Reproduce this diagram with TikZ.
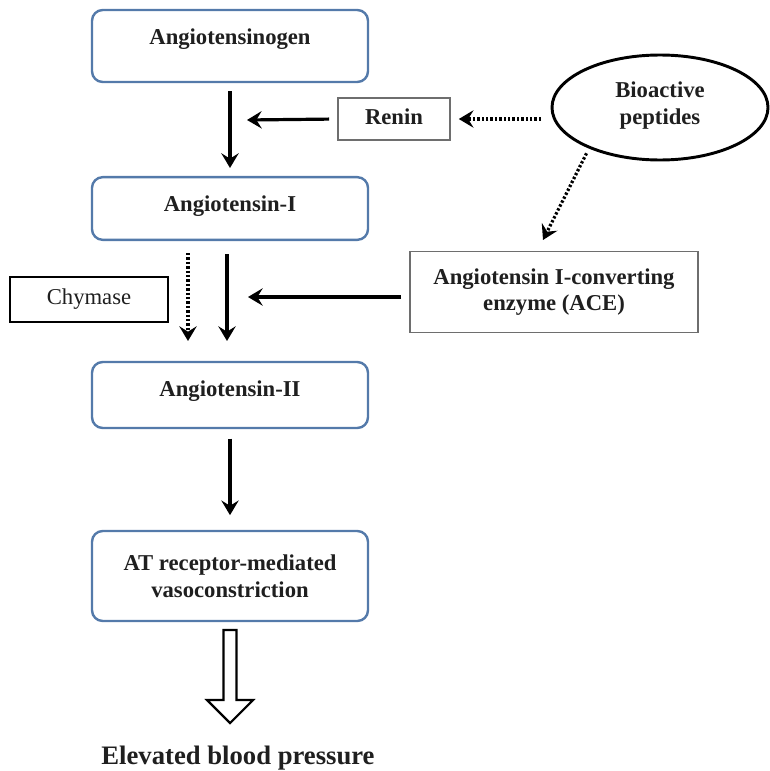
\documentclass[tikz,border=0pt]{standalone}
\usepackage{fontspec}
\setmainfont{Liberation Serif}
\usetikzlibrary{arrows.meta,shapes.geometric,calc}
\definecolor{boxblue}{RGB}{84,122,170}
\definecolor{boxgray}{RGB}{110,110,110}
\begin{document}
\begin{tikzpicture}[x=0.75pt,y=-0.75pt,
  txt/.style={font=\fontsize{17}{20}\selectfont\bfseries, text=black!88},
  bluebox/.style={txt, draw=boxblue, line width=1.8pt, rounded corners=8pt, fill=white,
     minimum width=207pt, align=center},
  graybox/.style={txt, draw=boxgray, line width=1.2pt, fill=white, align=center},
  solidarrow/.style={line width=2.4pt, -{Stealth[length=11pt,width=13pt,inset=4pt]}},
  dotarrow/.style={line width=2.4pt, dash pattern=on 1.8pt off 1.5pt, -{Stealth[length=11pt,width=13pt,inset=4pt]}},
]
\useasboundingbox (0,0) rectangle (770,771);

% main chain
\node[bluebox, minimum height=54pt, text height=12pt, text depth=15pt] (agen) at (230,46) {Angiotensinogen};
\node[bluebox, minimum height=47pt, text height=12pt, text depth=7.5pt] (a1) at (230,208.5) {Angiotensin-I};
\node[bluebox, minimum height=49.5pt, text height=12pt, text depth=10pt] (a2) at (230,395) {Angiotensin-II};
\node[bluebox, minimum height=67.5pt] (at) at (230,576) {AT receptor-mediated\\vasoconstriction};

% enzymes
\node[graybox, minimum width=84pt, minimum height=31.5pt, text height=12pt, text depth=4pt] (renin) at (394,119) {Renin};
\node[graybox, minimum width=216pt, minimum height=60.75pt] (ace) at (554,292) {Angiotensin I-converting\\enzyme (ACE)};
\node[txt, font=\fontsize{17}{20}\selectfont, draw=black, line width=2.2pt, fill=white,
      minimum width=118.5pt, minimum height=33.75pt, text height=12pt, text depth=4pt] (chy) at (89,299.5) {Chymase};

% bioactive peptides
\node[txt, ellipse, draw=black, line width=2.2pt, minimum width=162pt, minimum height=78.75pt,
      align=center, text depth=7pt] (bio) at (660,107.5) {Bioactive\\peptides};

% free ends
\coordinate (reninTip) at (247,120);
\coordinate (aceTip) at (248,297);
\coordinate (aceTop) at (543,240);
\coordinate (chyTip) at (188,341);
\coordinate (a2Tip) at (227,341);

% connectors
\draw[solidarrow, shorten <=6pt, shorten >=6pt] (agen.south) -- (a1.north);
\draw[solidarrow, shorten <=6pt] (renin.west) -- (reninTip);
\draw[dotarrow, shorten <=7pt, shorten >=6pt] (bio.west |- renin.east) -- (renin.east);
\draw[dotarrow, shorten <=4pt] (bio.-150) -- (aceTop);
\draw[solidarrow, shorten <=6pt] (ace.west |- aceTip) -- (aceTip);
\draw[dotarrow, shorten <=9pt] (a1.south -| chyTip) -- (chyTip);
\draw[solidarrow, shorten <=10pt] (a1.south -| a2Tip) -- (a2Tip);
\draw[solidarrow, shorten <=7pt, shorten >=11pt] (a2.south) -- (at.north);

% hollow arrow
\coordinate (ha) at (230,630);
\draw[line width=1.6pt, fill=white, line join=miter]
  ($(ha)+(-6.5,0)$) -- ($(ha)+(6.5,0)$) -- ($(ha)+(6.5,70)$) -- ($(ha)+(23,70)$) --
  ($(ha)+(0,93)$) -- ($(ha)+(-23,70)$) -- ($(ha)+(-6.5,70)$) -- cycle;

\node[txt, font=\fontsize{20}{24}\selectfont\bfseries] (ebp) at (238,758) {Elevated blood pressure};
\end{tikzpicture}
\end{document}
